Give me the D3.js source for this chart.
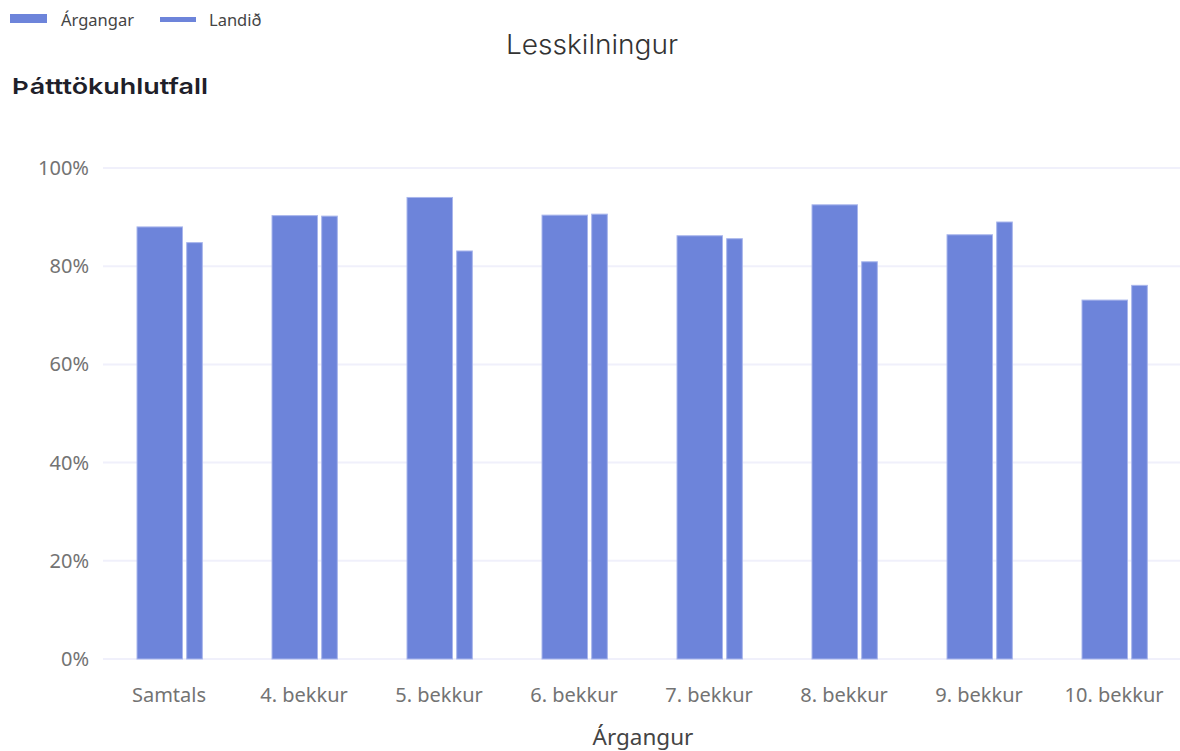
<!DOCTYPE html>
<html>
<head>
<meta charset="utf-8">
<script src="https://cdn.jsdelivr.net/npm/d3@7"></script>
<style>
  body { margin: 0; background: #fff; }
  svg { display: block; }
</style>
</head>
<body>
<div id="chart"></div>
<script>
// data
var categories = ['Samtals', '4. bekkur', '5. bekkur', '6. bekkur', '7. bekkur', '8. bekkur', '9. bekkur', '10. bekkur'];
var argangar = [88.0, 90.3, 94.0, 90.4, 86.2, 92.5, 86.4, 73.1];
var landid = [84.8, 90.2, 83.1, 90.6, 85.6, 80.9, 89.0, 76.1];
var yTicks = [0, 20, 40, 60, 80, 100];
var seriesNames = ['Árgangar', 'Landið'];

var width = 1180, height = 751;
var plotLeft = 101.5, plotRight = 1181.5, plotTop = 168, plotBottom = 659;
var barColor = '#6d84da';
var tickFont = 'Noto Sans, sans-serif';

var svg = d3.select('#chart').append('svg')
    .attr('width', width)
    .attr('height', height);

var x = d3.scaleBand()
    .domain(categories)
    .range([plotLeft, plotRight]);

var y = d3.scaleLinear()
    .domain([0, 100])
    .range([plotBottom, plotTop]);

// gridlines
svg.append('g').selectAll('line')
    .data(yTicks)
    .enter().append('line')
    .attr('x1', 103)
    .attr('x2', width)
    .attr('y1', function (d) { return y(d); })
    .attr('y2', function (d) { return y(d); })
    .attr('stroke', '#f0f0fb')
    .attr('stroke-width', 2);

// y tick labels
svg.append('g').selectAll('text')
    .data(yTicks)
    .enter().append('text')
    .attr('x', 89)
    .attr('y', function (d) { return y(d) + 7; })
    .attr('text-anchor', 'end')
    .attr('font-family', tickFont)
    .attr('font-size', 20)
    .attr('fill', '#737373')
    .text(function (d) { return d + '%'; });

// bars: wide one for Árgangar, narrow one for Landið
var bw = x.bandwidth();
var bars = svg.append('g');
bars.selectAll('.arg')
    .data(categories)
    .enter().append('rect')
    .attr('class', 'arg')
    .attr('x', function (d) { return x(d) + bw * 0.263; })
    .attr('width', bw * 0.337)
    .attr('y', function (d, i) { return y(argangar[i]); })
    .attr('height', function (d, i) { return plotBottom - y(argangar[i]); })
    .attr('fill', barColor)
    .attr('stroke', '#a9b6ec')
    .attr('stroke-width', 1);

bars.selectAll('.land')
    .data(categories)
    .enter().append('rect')
    .attr('class', 'land')
    .attr('x', function (d) { return x(d) + bw * 0.631; })
    .attr('width', bw * 0.116)
    .attr('y', function (d, i) { return y(landid[i]); })
    .attr('height', function (d, i) { return plotBottom - y(landid[i]); })
    .attr('fill', barColor)
    .attr('stroke', '#a9b6ec')
    .attr('stroke-width', 1);

// x tick labels
svg.append('g').selectAll('text')
    .data(categories)
    .enter().append('text')
    .attr('x', function (d) { return x(d) + bw / 2; })
    .attr('y', 702)
    .attr('text-anchor', 'middle')
    .attr('font-family', tickFont)
    .attr('font-size', 20)
    .attr('fill', '#737373')
    .text(function (d) { return d; });

// x axis title
svg.append('text')
    .attr('x', 643)
    .attr('y', 745)
    .attr('text-anchor', 'middle')
    .attr('font-family', tickFont)
    .attr('font-size', 22.5)
    .attr('fill', '#444')
    .text('Árgangur');

// chart title
svg.append('text')
    .attr('x', 506)
    .attr('y', 54)
    .attr('font-family', 'Inter, Lato, sans-serif')
    .attr('font-weight', 300)
    .attr('font-size', 27)
    .attr('textLength', 172)
    .attr('lengthAdjust', 'spacingAndGlyphs')
    .attr('fill', '#333')
    .text('Lesskilningur');

// y axis title
svg.append('text')
    .attr('x', 12)
    .attr('y', 94)
    .attr('font-family', 'Inter, DejaVu Sans, sans-serif')
    .attr('font-weight', 600)
    .attr('font-size', 22)
    .attr('textLength', 196)
    .attr('lengthAdjust', 'spacingAndGlyphs')
    .attr('fill', '#1f1f2a')
    .text('Þátttökuhlutfall');

// legend
var legend = svg.append('g');
legend.append('rect').attr('x', 10).attr('y', 14).attr('width', 37).attr('height', 9).attr('fill', barColor);
legend.append('text').attr('x', 61).attr('y', 26)
    .attr('font-family', tickFont).attr('font-size', 16.5).attr('fill', '#444')
    .text(seriesNames[0]);
legend.append('rect').attr('x', 160).attr('y', 17).attr('width', 36).attr('height', 5).attr('fill', barColor);
legend.append('text').attr('x', 209).attr('y', 26)
    .attr('font-family', tickFont).attr('font-size', 16.5).attr('fill', '#444')
    .text(seriesNames[1]);
</script>
</body>
</html>
